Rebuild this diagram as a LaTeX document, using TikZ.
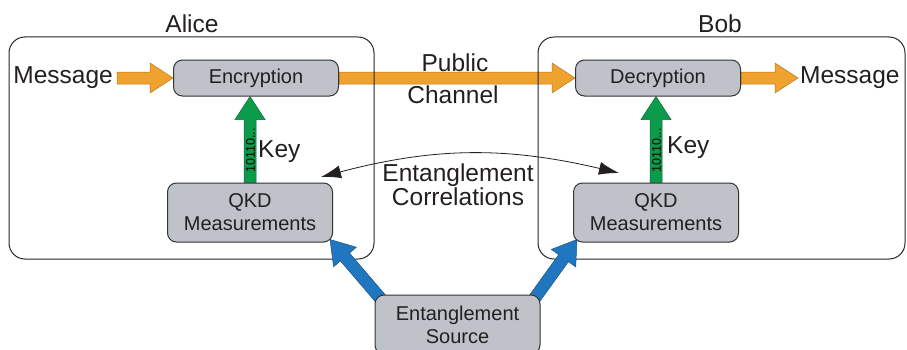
\documentclass[tikz,border=0pt]{standalone}
\usepackage{fontspec}
\setmainfont{Liberation Sans}
\usetikzlibrary{calc,arrows.meta}
\pgfdeclarelayer{back}
\pgfdeclarelayer{mid}
\pgfsetlayers{back,mid,main}

\definecolor{boxgray}{HTML}{BFC3C9}
\definecolor{txt}{HTML}{231F20}
\definecolor{msgorange}{HTML}{F0A22E}
\definecolor{keygreen}{HTML}{0B9B4A}
\definecolor{pairblue}{HTML}{2077C0}

% wide block arrow from #2 to #3, style #1
\newcommand\fatarrow[3]{%
  \coordinate (fa1) at (#2);
  \coordinate (fa2) at (#3);
  \coordinate (fab) at ($(fa2)!23pt!(fa1)$);
  \path[#1]
    ($(fa1)!6pt!90:(fa2)$) -- ($(fab)!6pt!90:(fa2)$) -- ($(fab)!15pt!90:(fa2)$)
    -- (fa2)
    -- ($(fab)!15pt!-90:(fa2)$) -- ($(fab)!6pt!-90:(fa2)$) -- ($(fa1)!6pt!-90:(fa2)$)
    -- cycle;}

\begin{document}
\begin{tikzpicture}[x=1pt,y=1pt,
  procbox/.style={draw=black!80, line width=1pt, fill=boxgray, rounded corners=9pt,
    text=txt, font=\fontsize{20}{23}\selectfont, align=center,
    minimum width=165pt, inner sep=0pt},
  groupbox/.style={draw=black!85, line width=1pt, rounded corners=16pt, inner sep=0pt},
  lbl/.style={text=txt, font=\fontsize{24.5}{24}\selectfont, align=center, inner sep=0pt},
  orangearrow/.style={fill=msgorange, draw=msgorange!75!black, line width=0.5pt},
  greenarrow/.style={fill=keygreen, draw=keygreen!70!black, line width=0.5pt},
  bluearrow/.style={fill=pairblue, draw=pairblue!70!black, line width=0.5pt},
  bits/.style={text=black, font=\fontsize{12.5}{12}\selectfont, rotate=90, inner sep=0pt}]
\useasboundingbox (0,0) rectangle (907,349);

% processing blocks
\node[procbox, minimum height=36pt] (enc) at (256,271) {Encryption};
\node[procbox, minimum height=36pt] (dec) at (658,271) {Decryption};
\node[procbox, minimum height=59pt] (qa) at (250,136.5) {QKD\\Measurements};
\node[procbox, minimum height=59pt] (qb) at (656,136.5) {QKD\\Measurements};
\node[procbox, minimum height=59pt] (src) at (457.5,24.5) {Entanglement\\Source};

% parties
\begin{pgfonlayer}{mid}
\node[groupbox, minimum width=365pt, minimum height=222pt] (alice) at (191.5,201) {};
\node[groupbox, minimum width=367pt, minimum height=222pt] (bob) at (721.5,201) {};
\end{pgfonlayer}
\node[lbl] (alicename) at (192,325) {Alice};
\node[lbl] (bobname) at (720,325) {Bob};

% message path
\node[lbl, anchor=east] (msgin) at (113,271) {Message};
\node[lbl, anchor=west] (msgout) at (800,271) {Message};
\node[lbl] (pub) at (455,286) {Public};
\node[lbl] (chan) at (453,254) {Channel};
\begin{pgfonlayer}{back}
\fatarrow{orangearrow}{$(msgin.east)+(4,0)$}{enc.west}
\fatarrow{orangearrow}{enc.east}{dec.west}
\fatarrow{orangearrow}{dec.east}{$(msgout.west)+(-2,0)$}
\end{pgfonlayer}

% key delivery
\begin{pgfonlayer}{mid}
\fatarrow{greenarrow}{qa.north}{qa.north |- enc.south}
\fatarrow{greenarrow}{qb.north}{qb.north |- dec.south}
\end{pgfonlayer}
\node[bits] (bitsa) at ($(qa.north)+(0.5,32)$) {10110...};
\node[bits] (bitsb) at ($(qb.north)+(0.5,32)$) {10110...};
\node[lbl, anchor=west] (keya) at (258,197) {Key};
\node[lbl, anchor=west] (keyb) at (667,201) {Key};

% entangled pair distribution
\begin{pgfonlayer}{mid}
\fatarrow{bluearrow}{$(src.north west)+(6,-4)$}{$(qa.south east)+(-3,3)$}
\fatarrow{bluearrow}{$(src.north east)+(-6,-4)$}{$(qb.south west)+(4,3)$}
\end{pgfonlayer}

% correlations
\node[lbl] (corr) at (458,164) {Entanglement\\Correlations};
\coordinate (ecL) at (321,172);
\coordinate (ecR) at (619,176);
\draw[txt, line width=0.8pt, {Latex[length=20pt,width=13pt]}-{Latex[length=20pt,width=13pt]}]
  (ecL) to[bend left=14] (ecR);
\end{tikzpicture}
\end{document}
